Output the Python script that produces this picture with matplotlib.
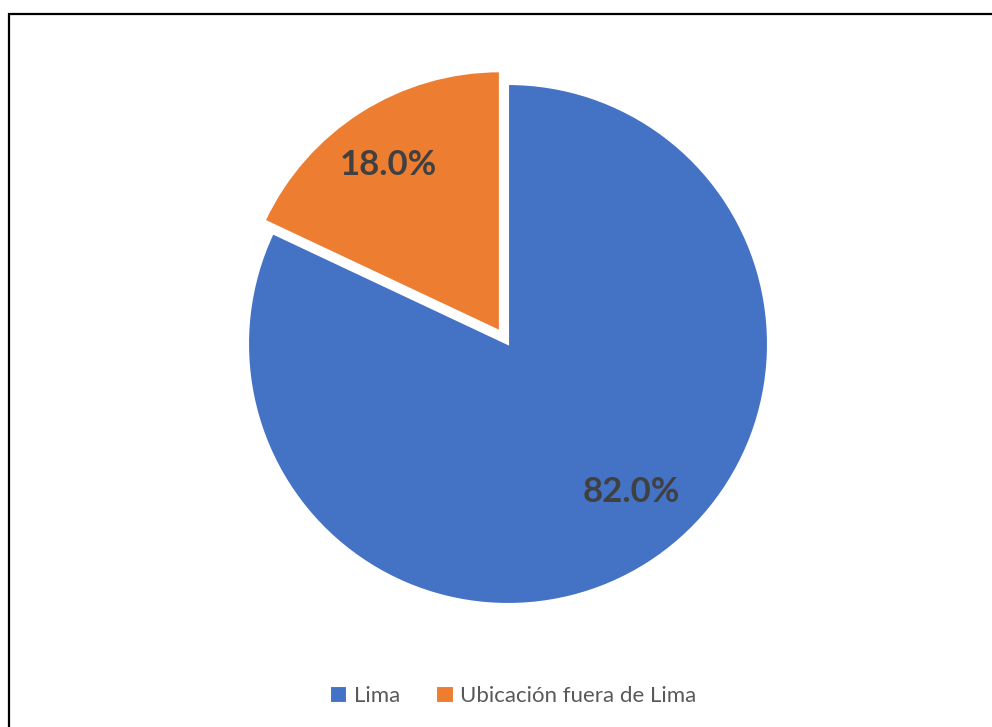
import matplotlib.pyplot as plt
from matplotlib.patches import Rectangle

labels = ['Lima', 'Ubicación fuera de Lima']
shares = [82.0, 18.0]
colors = ['#4472C4', '#ED7D31']
explode = [0.0, 0.058]

W, H = 992, 727
fig = plt.figure(figsize=(W / 100, H / 100), dpi=100)
fig.patch.set_facecolor('white')

# chart frame (runs off the right/bottom edge)
fig.add_artist(Rectangle((8.5 / W, -0.05), 1.1, (H - 13.5) / H + 0.05,
                         transform=fig.transFigure, fill=False,
                         edgecolor='black', lw=1.6))

R = 260
cx, cy = 508, H - 344
ax = fig.add_axes([(cx - 1.2 * R) / W, (cy - 1.2 * R) / H, 2.4 * R / W, 2.4 * R / H])

# reverse so Lima goes clockwise from 12 o'clock like a spreadsheet pie
wedges, _ = ax.pie(shares[::-1], colors=colors[::-1], explode=explode[::-1],
                   startangle=90, counterclock=True, radius=1.0,
                   wedgeprops=dict(edgecolor='white', linewidth=1.5))
wedges = wedges[::-1]
ax.set_xlim(-1.2, 1.2)
ax.set_ylim(-1.2, 1.2)
ax.axis('off')

label_pos = [(0.475, -0.57), (-0.46, 0.69)]
for v, (x, y) in zip(shares, label_pos):
    ax.text(x, y, f'{v:.1f}%', ha='center', va='center', fontsize=25,
            fontweight='bold', color='#404040', family='Lato')

leg = fig.legend(wedges, labels, loc='center', bbox_to_anchor=(513 / W, 1 - 696 / H),
                 ncol=2, frameon=False, handlelength=0.8, handleheight=0.8,
                 handletextpad=0.3, columnspacing=1.6,
                 prop=dict(family='Lato', size=16))
for t in leg.get_texts():
    t.set_color('#595959')

fig.savefig('out.png', dpi=100)
